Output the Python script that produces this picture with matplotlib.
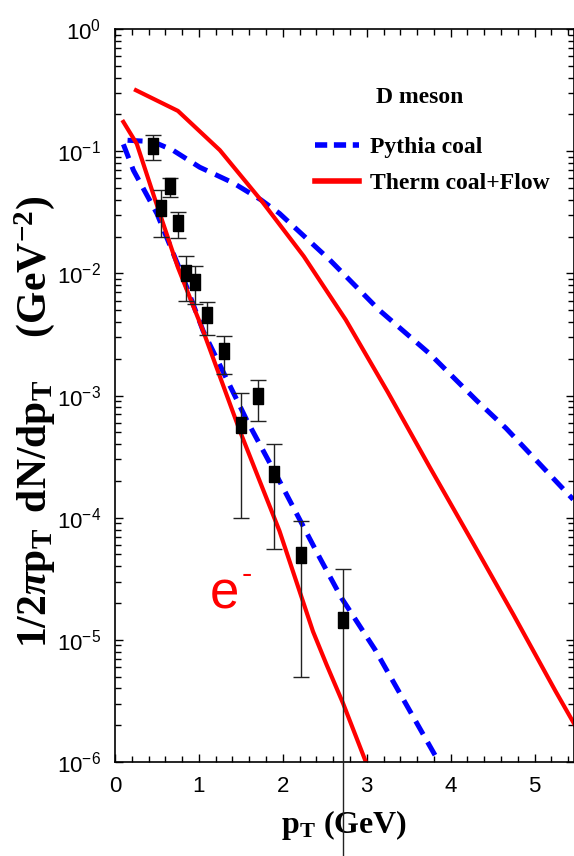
import numpy as np
import matplotlib
matplotlib.use("Agg")
import matplotlib.pyplot as plt
from matplotlib.lines import Line2D

plt.rcParams["font.family"] = ["Liberation Sans Narrow", "Liberation Sans", "DejaVu Sans"]
plt.rcParams["mathtext.fontset"] = "custom"
plt.rcParams["mathtext.rm"] = "Liberation Serif:bold"
plt.rcParams["mathtext.bf"] = "Liberation Serif:bold"
plt.rcParams["mathtext.it"] = "Liberation Serif:bold:italic"

# D meson spectra (upper curves)
d_pythia_pt = [0.15, 0.45, 0.69, 1.01, 1.41, 1.74, 1.96, 2.56, 3.15, 3.75, 4.31, 4.66, 5.46]
d_pythia_y = [0.123, 0.120, 0.102, 0.074, 0.055, 0.040, 0.031, 0.0129, 0.0050,
              0.0022, 9.1e-4, 5.4e-4, 1.41e-4]
d_therm_pt = [0.25, 0.75, 1.25, 1.75, 2.25, 2.75, 3.25, 3.75, 4.25, 4.75, 5.25, 5.5]
d_therm_y = [0.316, 0.214, 0.102, 0.039, 0.0138, 0.00417, 0.00107, 2.6e-4,
             6.5e-5, 1.6e-5, 3.8e-6, 1.9e-6]

# electron spectra (lower curves)
e_pythia_pt = [0.1, 0.22, 0.5, 0.81, 1.05, 1.57, 1.96, 2.44, 2.70, 3.1, 3.86]
e_pythia_y = [0.114, 0.0698, 0.0309, 0.00933, 0.00339, 6.3e-4, 2.0e-4, 4.7e-5,
              2.2e-5, 8.3e-6, 1.0e-6]
e_therm_pt = [0.1, 0.26, 0.48, 0.75, 1.05, 1.49, 1.96, 2.36, 2.52, 2.72, 2.99]
e_therm_y = [0.174, 0.115, 0.0398, 0.0112, 0.00339, 5.1e-4, 7.8e-5, 1.17e-5,
             6.3e-6, 3.0e-6, 1.0e-6]

# measured electron points with error bars
data_pt = [0.45, 0.55, 0.65, 0.75, 0.85, 0.95, 1.10, 1.30, 1.50, 1.70, 1.90, 2.22, 2.72]
data_y = [0.110, 0.034, 0.0516, 0.0258, 0.0101, 0.0085, 0.00453, 0.00231,
          5.78e-4, 9.9e-4, 2.28e-4, 4.98e-5, 1.45e-5]
data_hi = [0.136, 0.0485, 0.0608, 0.0318, 0.0139, 0.0114, 0.00582, 0.0031,
           0.00105, 0.00134, 4.0e-4, 9.4e-5, 3.8e-5]
data_lo = [0.085, 0.0197, 0.042, 0.0195, 0.0060, 0.00557, 0.00316, 0.0015,
           1.0e-4, 6.2e-4, 5.5e-5, 5.0e-6, 1.0e-8]

y_decades = [1e-6, 1e-5, 1e-4, 1e-3, 1e-2, 1e-1, 1]

fig = plt.figure(figsize=(5.74, 8.56), dpi=100)
ax = fig.add_axes([0.2003, 0.1098, 0.7997, 0.8562])

red = "#ff0000"
blue = "#0000ff"

ax.plot(d_pythia_pt, d_pythia_y, color=blue, lw=3.6, dashes=(3, 1.8))
ax.plot(d_therm_pt, d_therm_y, color=red, lw=3.0)
ax.plot(e_pythia_pt, e_pythia_y, color=blue, lw=3.6, dashes=(3, 1.8))
ax.plot(e_therm_pt, e_therm_y, color=red, lw=3.0)

y = np.array(data_y)
yerr = [y - np.array(data_lo), np.array(data_hi) - y]
rect = [(-0.65, -1), (0.65, -1), (0.65, 1), (-0.65, 1), (-0.65, -1)]
eb = ax.errorbar(data_pt, data_y, yerr=yerr, fmt="none", ecolor="#222222",
                 elinewidth=1.0, capsize=5.5, capthick=1.0, clip_on=False, zorder=3)
for art in eb.lines[1] + eb.lines[2]:
    art.set_clip_on(False)
ax.plot(data_pt, data_y, ls="none", marker=rect, markersize=12, color="black", zorder=4)

# electron tag with a small raised minus
ax.text(1.13, 1.8e-5, "e", color=red, fontsize=38,
        family=["Liberation Sans", "DejaVu Sans"], ha="left", va="baseline")
ax.text(1.57, 3.4e-5, "-", color=red, fontsize=22,
        family=["Liberation Sans", "DejaVu Sans"], ha="center", va="center")

ax.set_yscale("log")
ax.set_xlim(0, 5.47)
ax.set_ylim(1e-6, 1)
ax.set_yticks(y_decades)
ax.set_xticks([0, 1, 2, 3, 4, 5])
ax.set_xticks(np.arange(0, 5.5, 0.2), minor=True)
ax.tick_params(which="both", direction="in", top=True, right=True, width=1.0)
ax.tick_params(which="major", length=6, labelsize=16, pad=10)
ax.tick_params(which="minor", length=4)
for sp in ax.spines.values():
    sp.set_linewidth(1.2)

ax.set_xlabel(r"$\mathrm{p_T\ (GeV)}$", fontsize=23, labelpad=8)
fig.text(0.060, 0.507,
         r"$\mathrm{1/2}\pi\mathrm{p_T\ \,dN/dp_T}\quad\ \mathrm{(GeV^{-2})}$",
         fontsize=30, rotation=90, ha="center", va="center")

# legend: title set apart from the two entries
ax.text(0.664, 0.907, "D meson", transform=ax.transAxes, ha="center", va="center",
        family="Liberation Serif", weight="bold", fontsize=17)
handles = [Line2D([], [], color=blue, lw=4, dashes=(2.2, 1.2)),
           Line2D([], [], color=red, lw=4)]
leg = ax.legend(handles, ["Pythia coal", "Therm coal+Flow"],
                loc="upper left", bbox_to_anchor=(0.41, 0.869), frameon=False,
                prop={"family": "Liberation Serif", "weight": "bold", "size": 17},
                handlelength=1.85, handletextpad=0.5, labelspacing=0.6, borderpad=0)

fig.savefig("out.png", dpi=100)
